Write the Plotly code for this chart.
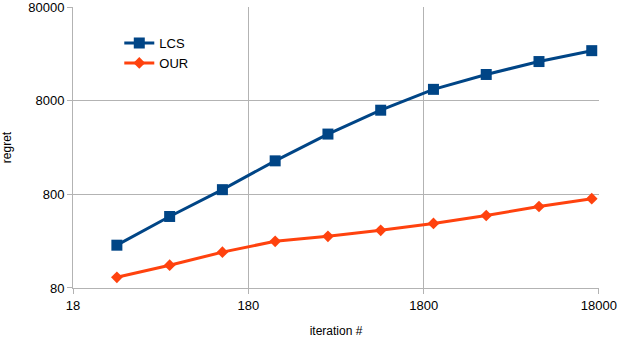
import math
import plotly.graph_objects as go

# iterations (log2 steps)
iterations = [32, 64, 128, 256, 512, 1024, 2048, 4096, 8192, 16384]
lcs_regret = [229, 464, 897, 1822, 3520, 6330, 10570, 15240, 20940, 27370]
our_regret = [104, 140, 193, 252, 285, 330, 391, 475, 593, 719]

x_ticks = [18, 180, 1800, 18000]
y_ticks = [80, 800, 8000, 80000]

font = 'Liberation Sans, Arial, sans-serif'
eps = 0.0005

fig = go.Figure()

fig.add_trace(go.Scatter(
    x=iterations, y=lcs_regret, name='LCS',
    mode='lines+markers',
    line=dict(color='#004586', width=3),
    marker=dict(symbol='square', size=11, color='#004586'),
))
fig.add_trace(go.Scatter(
    x=iterations, y=our_regret, name='OUR',
    mode='lines+markers',
    line=dict(color='#ff420e', width=3),
    marker=dict(symbol='diamond', size=9, color='#ff420e'),
))

fig.update_layout(
    width=620, height=338,
    margin=dict(l=73, r=21, t=7, b=50),
    paper_bgcolor='white', plot_bgcolor='white',
    font=dict(family=font, size=13, color='black'),
    showlegend=True,
    legend=dict(
        x=0.088, y=0.925, xanchor='left', yanchor='top',
        bgcolor='rgba(0,0,0,0)', font=dict(size=13),
        itemwidth=30, tracegroupgap=2,
    ),
    xaxis=dict(
        type='log',
        range=[math.log10(18) - eps, math.log10(18000) + eps],
        tickvals=x_ticks, ticktext=[str(v) for v in x_ticks],
        showgrid=True, gridcolor='#b3b3b3', gridwidth=1,
        showline=True, linecolor='#b3b3b3', linewidth=1,
        ticks='outside', ticklen=5, tickcolor='#b3b3b3',
        zeroline=False, automargin=False, ticklabeloverflow='allow',
        title=dict(text='iteration #', font=dict(size=12), standoff=18),
    ),
    yaxis=dict(
        type='log',
        range=[math.log10(80) - eps, math.log10(80000) + eps],
        tickvals=y_ticks, ticktext=[str(v) for v in y_ticks],
        showgrid=True, gridcolor='#b3b3b3', gridwidth=1,
        showline=True, linecolor='#b3b3b3', linewidth=1,
        ticks='outside', ticklen=5, tickcolor='#b3b3b3',
        zeroline=False, automargin=False, ticklabeloverflow='allow',
        title=dict(text='regret', font=dict(size=12), standoff=20),
    ),
)

# drop the browser's default 8px body margin so the figure sits at (0, 0)
fig.write_html("out.html", config={'displayModeBar': False},
               post_script="document.body.style.margin='0';")
